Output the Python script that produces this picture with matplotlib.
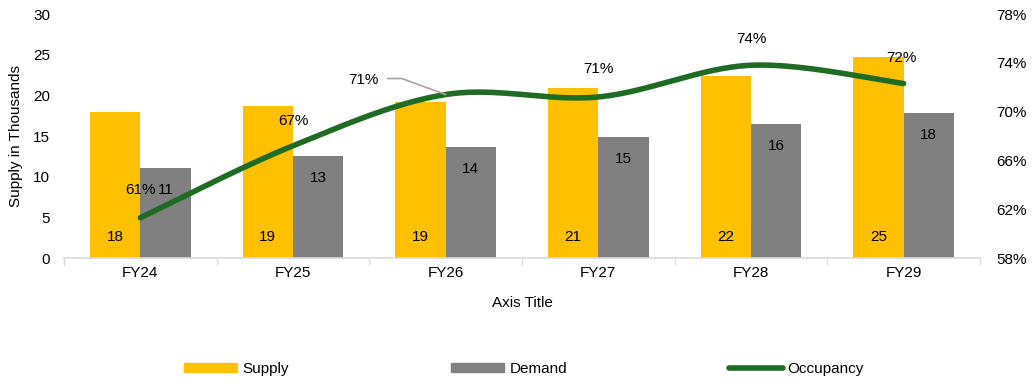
import numpy as np
import matplotlib
matplotlib.use("Agg")
import matplotlib.pyplot as plt
from matplotlib.lines import Line2D
from matplotlib.patches import Patch

plt.rcParams['font.family'] = ['Liberation Sans', 'DejaVu Sans']

categories = ["FY24", "FY25", "FY26", "FY27", "FY28", "FY29"]
supply = [18.0, 18.7, 19.2, 20.9, 22.4, 24.7]
demand = [11.1, 12.6, 13.7, 14.9, 16.5, 17.8]
occupancy = [61.3, 67.2, 71.4, 71.2, 73.8, 72.3]
left_ticks = [0, 5, 10, 15, 20, 25, 30]
right_ticks = [58, 62, 66, 70, 74, 78]

SUPPLY_C = "#FFC000"
DEMAND_C = "#808080"
OCC_C = "#1E6B24"
FS = 11

fig = plt.figure(figsize=(10.33, 3.85), dpi=100)
ax = fig.add_axes([64 / 1033, 1 - 258 / 385, (980 - 64) / 1033, (258 - 14) / 385])
x = np.arange(len(categories))
w = 0.33
ax.bar(x - w / 2, supply, w, color=SUPPLY_C, zorder=2)
ax.bar(x + w / 2, demand, w, color=DEMAND_C, zorder=2)

for xi, s in zip(x, supply):
    ax.annotate(f"{s:.0f}", (xi - w / 2, 0), xytext=(0, 21), textcoords="offset pixels",
                ha="center", va="center", fontsize=FS, color="#000000")
for xi, d in zip(x, demand):
    ax.annotate(f"{d:.0f}", (xi + w / 2, d), xytext=(0, -22), textcoords="offset pixels",
                ha="center", va="center", fontsize=FS, color="#000000")

ax.set_xlim(-0.5, len(categories) - 0.5)
ax.set_ylim(0, 30)
ax.set_yticks(left_ticks)
ax.set_xticks(x)
ax.set_xticklabels(categories, fontsize=FS)
ax.set_xticks(np.arange(-0.5, len(categories)), minor=True)
ax.tick_params(axis="x", which="major", length=0, pad=6)
ax.tick_params(axis="x", which="minor", length=5, color="#D9D9D9", width=1)
ax.tick_params(axis="y", length=0, labelsize=FS, pad=10)
for side in ("top", "right", "left"):
    ax.spines[side].set_visible(False)
ax.spines["bottom"].set_color("#D9D9D9")
ax.spines["bottom"].set_linewidth(1.2)
ax.set_ylabel("Supply in Thousands", fontsize=FS, labelpad=7)
ax.set_xlabel("Axis Title", fontsize=FS, labelpad=11)

# secondary axis with smoothed occupancy curve (Catmull-Rom)
ax2 = ax.twinx()
ax2.set_ylim(58, 78)
ax2.set_yticks(right_ticks)
ax2.set_yticklabels([f"{t}%" for t in right_ticks])
ax2.tick_params(axis="y", length=0, labelsize=FS, pad=12)
for side in ("top", "right", "left", "bottom"):
    ax2.spines[side].set_visible(False)

px = np.array(x, dtype=float)
py = np.array(occupancy, dtype=float)
P = np.column_stack([px, py])
ext = np.vstack([P[0], P, P[-1]])
curve = []
for i in range(len(P) - 1):
    p0, p1, p2, p3 = ext[i], ext[i + 1], ext[i + 2], ext[i + 3]
    c1 = p1 + (p2 - p0) / 6
    c2 = p2 - (p3 - p1) / 6
    t = np.linspace(0, 1, 40)[:, None]
    seg = ((1 - t) ** 3) * p1 + 3 * ((1 - t) ** 2) * t * c1 + 3 * (1 - t) * t ** 2 * c2 + t ** 3 * p2
    curve.append(seg if i == 0 else seg[1:])
curve = np.vstack(curve)
ax2.plot(curve[:, 0], curve[:, 1], color=OCC_C, lw=4.0, solid_capstyle="round", zorder=3)

label_offsets = [(0, 28), (0, 25), (-82, 15), (0, 28), (0, 26), (-2, 26)]
for xi, v, off in zip(x, occupancy, label_offsets):
    ax2.annotate(f"{v:.0f}%", (xi, v), xytext=off, textcoords="offset pixels",
                 ha="center", va="center", fontsize=FS, color="#000000")

# leader line for the FY26 label
ax2.annotate("", xy=(2, occupancy[2]), xytext=(-58, 16), textcoords="offset pixels",
             arrowprops=dict(arrowstyle="-", color="#A6A6A6", lw=1.2,
                             connectionstyle="angle,angleA=0,angleB=-20,rad=0",
                             shrinkA=0, shrinkB=0))

handles = [Patch(color=SUPPLY_C, label="Supply"),
           Patch(color=DEMAND_C, label="Demand"),
           Line2D([0], [0], color=OCC_C, lw=4.0, solid_capstyle="round", label="Occupancy")]
fig.legend(handles=handles, loc="center left", bbox_to_anchor=(184 / 1033, 1 - 369 / 385),
           ncol=3, frameon=False, fontsize=FS, handlelength=3.5, handleheight=0.6,
           handletextpad=0.33, columnspacing=10.6, borderpad=0, borderaxespad=0)

fig.savefig("out.png", dpi=100)
